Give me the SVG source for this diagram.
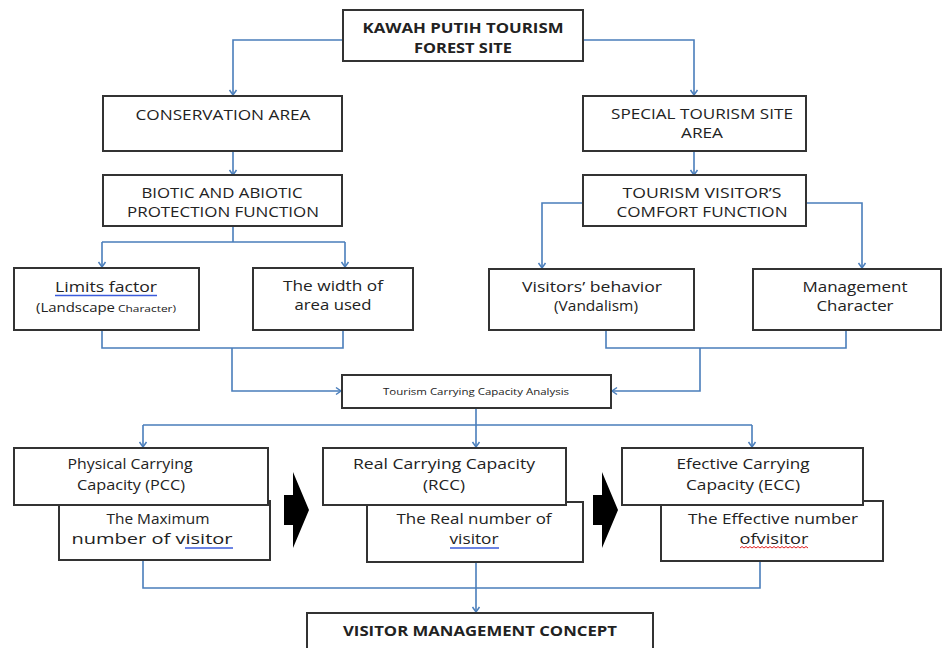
<svg xmlns="http://www.w3.org/2000/svg" width="950" height="648" viewBox="0 0 950 648">
<defs>
<marker id="ah" markerUnits="userSpaceOnUse" markerWidth="10" markerHeight="10" refX="8" refY="5" orient="auto">
<path d="M3,1.5 L8,5 L3,8.5" fill="none" stroke="#4a7ebb" stroke-width="1.5"/>
</marker>
<style>
.box{fill:#fff;stroke:#333;stroke-width:2}
.c{fill:none;stroke:#4a7ebb;stroke-width:1.6}
.a{marker-end:url(#ah)}
text{font-family:"Open Sans","Liberation Sans",sans-serif;fill:#222;text-anchor:middle;font-size:15px}
.b{font-weight:bold;font-size:15px}
.s{font-size:9px}
.blk{fill:#000}
.ul{stroke:#3b5bdb;stroke-width:1.3;fill:none}
.red{stroke:#e02020;stroke-width:1;fill:none}
</style>
</defs>
<rect width="950" height="648" fill="#fff"/>
<g id="connectors">
<path class="c a" d="M343,40 H233 V95"/>
<path class="c a" d="M583,40 H694 V95"/>
<path class="c a" d="M233,151 V175"/>
<path class="c a" d="M694,151 V175"/>
<path class="c" d="M233,226 V242 M102,242 H345"/>
<path class="c a" d="M102,242 V267"/>
<path class="c a" d="M345,242 V267"/>
<path class="c a" d="M582,203 H542 V268"/>
<path class="c a" d="M806,203 H862 V268"/>
<path class="c" d="M102,330 V348 H343 V330"/>
<path class="c a" d="M232,348 V391 H341"/>
<path class="c" d="M606,330 V348 H846 V330"/>
<path class="c a" d="M700,348 V391 H612"/>
<path class="c" d="M476,409 V425 M143,425 H752"/>
<path class="c a" d="M143,425 V447"/>
<path class="c a" d="M476,425 V447"/>
<path class="c a" d="M752,425 V447"/>
<path class="c" d="M143,560 V588 H760 V561"/>
<path class="c a" d="M476,562 V612"/>
</g>
<g id="n-top">
<rect class="box" x="343" y="10" width="240" height="51"/>
<text class="b" x="463" y="33" textLength="201" lengthAdjust="spacingAndGlyphs">KAWAH PUTIH TOURISM</text>
<text class="b" x="463" y="53" textLength="98" lengthAdjust="spacingAndGlyphs">FOREST SITE</text>
</g>
<g id="n-conservation">
<rect class="box" x="103" y="96" width="239" height="55"/>
<text x="223" y="120" textLength="175" lengthAdjust="spacingAndGlyphs">CONSERVATION AREA</text>
</g>
<g id="n-biotic">
<rect class="box" x="103" y="175" width="239" height="51"/>
<text x="222" y="198" textLength="161" lengthAdjust="spacingAndGlyphs">BIOTIC AND ABIOTIC</text>
<text x="223" y="217" textLength="192" lengthAdjust="spacingAndGlyphs">PROTECTION FUNCTION</text>
</g>
<g id="n-special">
<rect class="box" x="583" y="96" width="223" height="55"/>
<text x="702" y="119" textLength="182" lengthAdjust="spacingAndGlyphs">SPECIAL TOURISM SITE</text>
<text x="702" y="138" textLength="42" lengthAdjust="spacingAndGlyphs">AREA</text>
</g>
<g id="n-comfort">
<rect class="box" x="583" y="175" width="223" height="51"/>
<text x="702" y="198" textLength="159" lengthAdjust="spacingAndGlyphs">TOURISM VISITOR’S</text>
<text x="702" y="217" textLength="171" lengthAdjust="spacingAndGlyphs">COMFORT FUNCTION</text>
</g>
<g id="n-limits">
<rect class="box" x="14" y="268" width="185" height="62"/>
<text x="106" y="292" textLength="102" lengthAdjust="spacingAndGlyphs">Limits  factor</text>
<path class="ul" d="M55,295.5 H157"/>
<text x="75.5" y="312" style="font-size:12px" textLength="79" lengthAdjust="spacingAndGlyphs">(Landscape</text>
<text x="147" y="312" style="font-size:9px" textLength="58" lengthAdjust="spacingAndGlyphs">Character)</text>
</g>
<g id="n-width">
<rect class="box" x="253" y="268" width="160" height="62"/>
<text x="333" y="291" textLength="100" lengthAdjust="spacingAndGlyphs">The width of</text>
<text x="333" y="310" textLength="77" lengthAdjust="spacingAndGlyphs">area used</text>
</g>
<g id="n-visitors">
<rect class="box" x="489" y="269" width="205" height="61"/>
<text x="592" y="292" textLength="140" lengthAdjust="spacingAndGlyphs">Visitors’ behavior</text>
<text x="596" y="311" textLength="84" lengthAdjust="spacingAndGlyphs">(Vandalism)</text>
</g>
<g id="n-management">
<rect class="box" x="753" y="269" width="188" height="61"/>
<text x="855" y="292" textLength="105" lengthAdjust="spacingAndGlyphs">Management</text>
<text x="855" y="311" textLength="77" lengthAdjust="spacingAndGlyphs">Character</text>
</g>
<g id="n-analysis">
<rect class="box" x="342" y="375" width="269" height="33"/>
<text class="s" x="476" y="395" textLength="186" lengthAdjust="spacingAndGlyphs">Tourism Carrying Capacity Analysis</text>
</g>
<g id="n-pcc">
<rect class="box" x="59" y="501" width="211" height="59"/>
<rect class="box" x="14" y="448" width="254" height="57"/>
<text x="130" y="469" textLength="125" lengthAdjust="spacingAndGlyphs">Physical Carrying</text>
<text x="131" y="490" textLength="108" lengthAdjust="spacingAndGlyphs">Capacity (PCC)</text>
<text x="158" y="524" textLength="103" lengthAdjust="spacingAndGlyphs">The Maximum</text>
<text x="152" y="544" textLength="161" lengthAdjust="spacingAndGlyphs">number of visitor</text>
<path class="ul" d="M185,548 H233"/>
</g>
<g id="n-rcc">
<rect class="box" x="367" y="502" width="216" height="60"/>
<rect class="box" x="323" y="448" width="243" height="57"/>
<text x="444" y="469" textLength="182" lengthAdjust="spacingAndGlyphs">Real Carrying  Capacity</text>
<text x="444" y="490" textLength="42" lengthAdjust="spacingAndGlyphs">(RCC)</text>
<text x="474" y="524" textLength="155" lengthAdjust="spacingAndGlyphs">The Real number of</text>
<text x="474" y="544" textLength="49" lengthAdjust="spacingAndGlyphs">visitor</text>
<path class="ul" d="M450,548 H499"/>
</g>
<g id="n-ecc">
<rect class="box" x="661" y="501" width="222" height="60"/>
<rect class="box" x="622" y="448" width="241" height="57"/>
<text x="743" y="469" textLength="133" lengthAdjust="spacingAndGlyphs">Efective Carrying</text>
<text x="743" y="490" textLength="114" lengthAdjust="spacingAndGlyphs">Capacity (ECC)</text>
<text x="773" y="524" textLength="170" lengthAdjust="spacingAndGlyphs">The Effective number</text>
<text x="774" y="544" textLength="69" lengthAdjust="spacingAndGlyphs">ofvisitor</text>
<path class="red" d="M740,548 l2,-1.5 l2,1.5 l2,-1.5 l2,1.5 l2,-1.5 l2,1.5 l2,-1.5 l2,1.5 l2,-1.5 l2,1.5 l2,-1.5 l2,1.5 l2,-1.5 l2,1.5 l2,-1.5 l2,1.5 l2,-1.5 l2,1.5 l2,-1.5 l2,1.5 l2,-1.5 l2,1.5 l2,-1.5 l2,1.5 l2,-1.5 l2,1.5 l2,-1.5 l2,1.5 l2,-1.5 l2,1.5 l2,-1.5 l2,1.5 l2,-1.5 l2,1.5"/>
</g>
<g id="block-arrows">
<polygon class="blk" points="284,495 293,495 293,472 309,510 293,548 293,525 284,525"/>
<polygon class="blk" points="593,495 602,495 602,472 618,510 602,548 602,525 593,525"/>
</g>
<g id="n-vmc">
<rect class="box" x="307" y="613" width="346" height="45"/>
<text class="b" x="480" y="636" textLength="274" lengthAdjust="spacingAndGlyphs">VISITOR MANAGEMENT CONCEPT</text>
</g>
</svg>
